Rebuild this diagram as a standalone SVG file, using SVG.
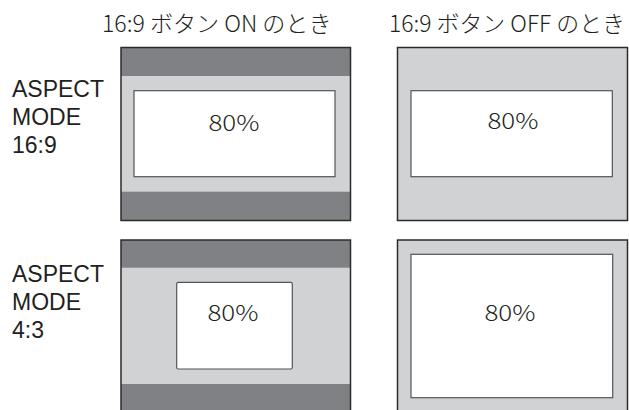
<svg xmlns="http://www.w3.org/2000/svg" width="629" height="410" viewBox="0 0 629 410">
<style>
.t{font-family:"Noto Sans CJK JP","Liberation Sans",sans-serif;fill:#231f20;font-weight:300}
.h{font-size:22.5px}
.l{font-family:"Liberation Sans","Noto Sans CJK JP",sans-serif;font-size:23px;fill:#231f20}
.p{font-family:"Noto Sans CJK JP","Liberation Sans",sans-serif;font-weight:300;font-size:22px;fill:#231f20;text-anchor:middle}
.dark{fill:#808184}
.light{fill:#d1d2d4}
.frame{fill:none;stroke:#2b2b2b;stroke-width:1.5}
.win{fill:#fff;stroke:#555;stroke-width:1.2}
</style>
<rect width="629" height="410" fill="#fff"/>
<g id="headers">
<text class="t h" x="102" y="31.5" textLength="229.5" lengthAdjust="spacingAndGlyphs">16:9 ボタン ON のとき</text>
<text class="t h" x="389" y="31.5" textLength="236" lengthAdjust="spacingAndGlyphs">16:9 ボタン OFF のとき</text>
</g>
<g id="label-169">
<text class="l" x="12" y="96.7">ASPECT</text>
<text class="l" x="12" y="125">MODE</text>
<text class="l" x="12" y="153.3">16:9</text>
</g>
<g id="label-43">
<text class="l" x="12" y="281.7">ASPECT</text>
<text class="l" x="12" y="310">MODE</text>
<text class="l" x="12" y="338.3">4:3</text>
</g>
<g id="panel-169-on">
<rect class="light" x="121" y="47.5" width="229.5" height="173"/>
<rect class="dark" x="121" y="47.5" width="229.5" height="28.5"/>
<rect class="dark" x="121" y="191.7" width="229.5" height="28.8"/>
<rect class="frame" x="121" y="47.5" width="229.5" height="173"/>
<rect class="win" x="134" y="90.7" width="201" height="86"/>
<text class="p" x="234" y="130.7" textLength="51" lengthAdjust="spacingAndGlyphs">80%</text>
</g>
<g id="panel-169-off">
<rect class="light" x="397.5" y="47.5" width="230" height="173"/>
<rect class="frame" x="397.5" y="47.5" width="230" height="173"/>
<rect class="win" x="411" y="90.7" width="201.3" height="86"/>
<text class="p" x="513" y="129" textLength="51" lengthAdjust="spacingAndGlyphs">80%</text>
</g>
<g id="panel-43-on">
<rect class="light" x="121" y="240" width="229.5" height="175"/>
<rect class="dark" x="121" y="240" width="229.5" height="27.7"/>
<rect class="dark" x="121" y="384" width="229.5" height="31"/>
<rect class="frame" x="121" y="240" width="229.5" height="175"/>
<rect class="win" x="176.7" y="282.3" width="115.6" height="86.7" rx="1.5"/>
<text class="p" x="233" y="320.7" textLength="51" lengthAdjust="spacingAndGlyphs">80%</text>
</g>
<g id="panel-43-off">
<rect class="light" x="397.5" y="240" width="230" height="175"/>
<rect class="frame" x="397.5" y="240" width="230" height="175"/>
<rect class="win" x="411" y="254.3" width="201.7" height="143.4"/>
<text class="p" x="510" y="320.7" textLength="51" lengthAdjust="spacingAndGlyphs">80%</text>
</g>
<g id="connectors"></g>
</svg>
